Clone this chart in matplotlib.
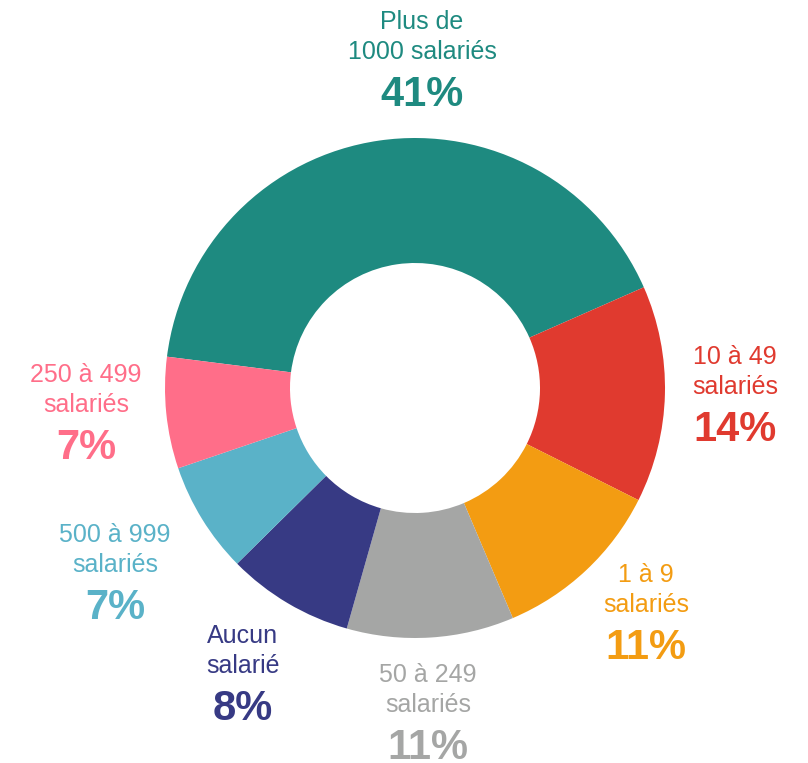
import matplotlib
matplotlib.use("Agg")
import matplotlib.pyplot as plt

# ---- data ----
categories = ["Plus de\n1000 salariés", "10 à 49\nsalariés", "1 à 9\nsalariés",
              "50 à 249\nsalariés", "Aucun\nsalarié", "500 à 999\nsalariés",
              "250 à 499\nsalariés"]
values = [41.4, 14.0, 11.2, 10.8, 8.2, 7.2, 7.2]
colors = ["#1e8a80", "#e03a2f", "#f39c12", "#a5a6a5", "#373a84", "#5ab2c8", "#ff6e89"]

# ---- layout (pixels) ----
W, H = 808, 763
CX, CY = 415, H - 388
R = 250
# percent-label centre offsets from pie centre (x right, y up)
label_offsets = [(7, 293), (320, -42), (231, -260), (13, -360),
                 (-172, -321), (-300, -220), (-329, -60)]
NAME_GAP = 58

plt.rcParams['font.family'] = ['Liberation Sans', 'DejaVu Sans']
fig = plt.figure(figsize=(W / 100, H / 100), dpi=100)
ax = fig.add_axes([0, 0, 1, 1])

ax.pie(values, colors=colors, startangle=172.8, counterclock=False,
       center=(CX, CY), radius=R, wedgeprops=dict(width=R * 0.5, linewidth=0),
       frame=True)
ax.set_xlim(0, W)
ax.set_ylim(0, H)
ax.axis('off')

for cat, v, c, (dx, dy) in zip(categories, values, colors, label_offsets):
    px, py = CX + dx, CY + dy
    ax.text(px, py, f"{round(v)}%", color=c, fontsize=30, fontweight='bold',
            ha='center', va='center')
    ax.text(px, py + NAME_GAP, cat, color=c, fontsize=18, ha='center',
            va='center', linespacing=1.32)

fig.savefig("out.png", dpi=100)
